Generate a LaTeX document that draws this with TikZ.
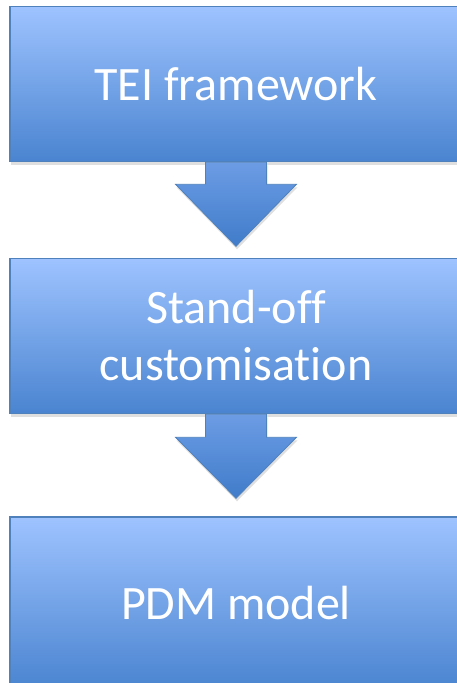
\documentclass[tikz,border=0pt]{standalone}
\usepackage{fontspec}
\setmainfont{Carlito}[Ligatures=NoCommon]
\usetikzlibrary{calc,shadows}

\definecolor{boxtop}{RGB}{158,195,255}
\definecolor{boxmid}{RGB}{132,174,242}
\definecolor{boxbot}{RGB}{74,132,208}
\definecolor{boxline}{RGB}{79,129,189}
\definecolor{arrowtop}{RGB}{108,156,228}
\definecolor{arrowbot}{RGB}{64,124,202}

\tikzset{
  stagebox/.style={draw=boxline, line width=1.5pt, top color=boxtop, middle color=boxmid, bottom color=boxbot,
    minimum width=452pt, inner sep=0pt, align=center, text=white,
    font=\fontsize{48}{57}\selectfont,
    drop shadow={shadow xshift=1pt, shadow yshift=-3pt, opacity=0.25}},
  downarrow/.style={draw=boxline, line width=0.8pt, top color=arrowtop, bottom color=arrowbot,
    drop shadow={shadow xshift=1pt, shadow yshift=-3pt, opacity=0.25}}
}

\begin{document}
\begin{tikzpicture}[x=1pt,y=1pt,yscale=-1,xscale=1]
\clip (0,0) rectangle (457,683);
\fill[white] (0,0) rectangle (457,683);

% stages
\node[stagebox, minimum height=155pt] (tei) at (236,84) {TEI framework};
\node[stagebox, minimum height=155pt] (cust) at (236,336) {Stand-off\\customisation};
\node[stagebox, minimum height=172pt] (pdm) at (236,603) {PDM model};

% block arrows
\draw[downarrow] ($(tei.south)+(-30.5,0)$) -- ++(0,22) -- ++(-30,0) -- ++(60.5,62) -- ++(60.5,-62) -- ++(-30,0) -- ++(0,-22) -- cycle;
\draw[downarrow] ($(cust.south)+(-30.5,0)$) -- ++(0,23) -- ++(-30,0) -- ++(60.5,61) -- ++(60.5,-61) -- ++(-30,0) -- ++(0,-23) -- cycle;

\end{tikzpicture}
\end{document}
